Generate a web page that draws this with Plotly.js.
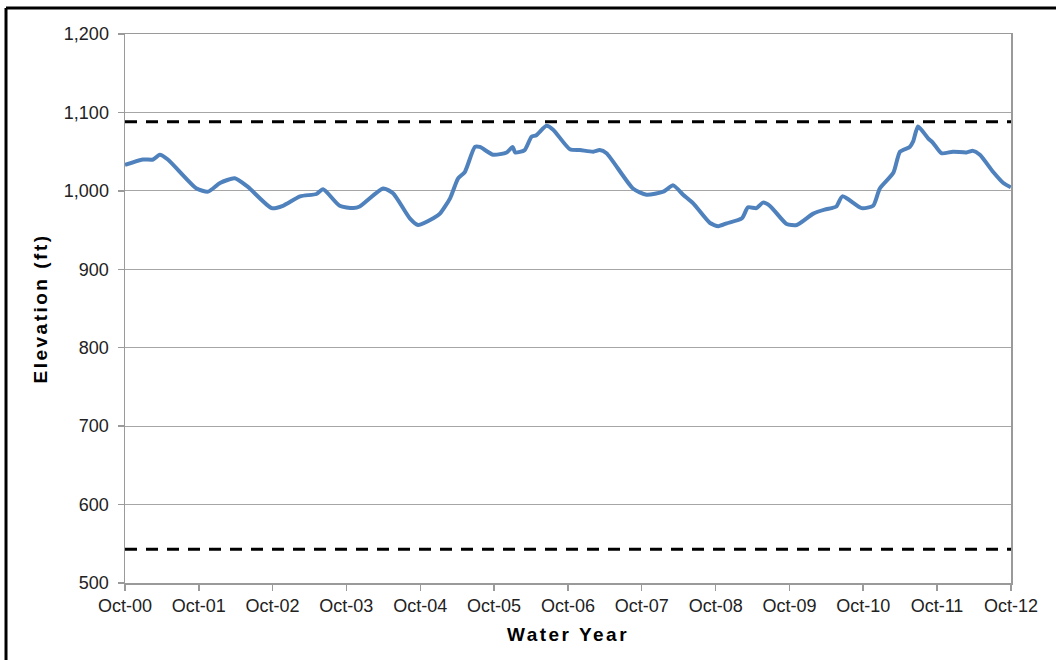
<!DOCTYPE html>
<html>
<head>
<meta charset="utf-8">
<script src="https://cdn.plot.ly/plotly-3.0.1.min.js"></script>
<style>
  html, body { margin: 0; padding: 0; background: #ffffff; }
  #chart { width: 1056px; height: 660px; }
  .xtitle, .ytitle { letter-spacing: 2.5px; }
</style>
</head>
<body>
<div id="chart"></div>
<script>
// Elevation record (date, ft)
const dates = [
  "2000-10-01","2000-12-28","2001-02-17","2001-03-22","2001-05-01","2001-09-20","2001-11-16",
  "2002-01-14","2002-03-28","2002-06-01","2002-09-27","2002-11-21","2003-02-14","2003-05-06",
  "2003-06-08","2003-08-29","2003-11-04","2003-12-06","2004-03-31","2004-05-19","2004-08-10",
  "2004-09-20","2004-12-04","2005-01-06","2005-02-25","2005-04-06","2005-05-09","2005-06-28",
  "2005-07-22","2005-09-27","2005-12-02","2006-01-01","2006-01-13","2006-03-01","2006-04-04",
  "2006-04-28","2006-06-17","2006-07-20","2006-10-11","2006-11-30","2007-02-04","2007-03-07",
  "2007-04-10","2007-08-19","2007-10-25","2008-01-16","2008-03-05","2008-04-23","2008-06-12",
  "2008-09-03","2008-10-14","2008-11-25","2009-02-08","2009-03-10","2009-04-21","2009-05-23",
  "2009-06-26","2009-09-17","2009-11-06","2010-01-27","2010-03-24","2010-04-27","2010-05-21",
  "2010-06-20","2010-09-23","2010-11-19","2010-12-22","2011-02-27","2011-04-01","2011-05-19",
  "2011-06-05","2011-06-29","2011-08-18","2011-09-12","2011-10-23","2011-12-19","2012-02-24",
  "2012-03-27","2012-04-30","2012-07-05","2012-08-24","2012-09-30"
];
const elevation = [
  1033,1040,1040,1046,1040,1003,999,
  1010,1016,1005,978,981,993,996,
  1002,981,978,980,1003,997,965,
  956.5,965,971,990.5,1016,1024,1056,
  1056,1046,1049,1056,1049,1052,1069,
  1071,1083,1078,1053,1052,1050,1052,
  1048,1003,995,999,1007,995,984,
  959,955,958.6,965,979,978,985,
  981,957.8,956.5,971,976,978,980,
  993,978,981,1003,1023,1050,1056,
  1063,1082,1067,1061,1048,1050,1049,
  1051,1046,1024,1010,1004.5
];
// Reference levels (ft)
const limitDates = ["2000-10-01","2012-10-01"];
const upperLevel = [1088, 1088];
const lowerLevel = [543, 543];
const yTicks = [500,600,700,800,900,1000,1100,1200];
const tickDates = ["2000-10-01","2001-10-01","2002-10-01","2003-10-01","2004-10-01","2005-10-01","2006-10-01",
                   "2007-10-01","2008-10-01","2009-10-01","2010-10-01","2011-10-01","2012-10-01"];
const tickLabels = ["Oct-00","Oct-01","Oct-02","Oct-03","Oct-04","Oct-05","Oct-06",
                    "Oct-07","Oct-08","Oct-09","Oct-10","Oct-11","Oct-12"];

const font = "Liberation Sans, Arial, sans-serif";

const traces = [
  {x: limitDates, y: upperLevel, mode: "lines", line: {color: "#000000", width: 3, dash: "12px,9px"}, hoverinfo: "skip"},
  {x: limitDates, y: lowerLevel, mode: "lines", line: {color: "#000000", width: 3, dash: "12px,9px"}, hoverinfo: "skip"},
  {x: dates, y: elevation, mode: "lines", line: {color: "#4F81BD", width: 4, shape: "spline", smoothing: 0.6}}
];

const layout = {
  width: 1056, height: 660,
  margin: {l: 125, r: 45, t: 34, b: 77},
  paper_bgcolor: "#ffffff", plot_bgcolor: "#ffffff",
  showlegend: false,
  font: {family: font, color: "#222222", size: 18},
  xaxis: {
    type: "date",
    range: ["2000-10-01","2012-10-01"],
    tickvals: tickDates, ticktext: tickLabels,
    showgrid: false, zeroline: false,
    showline: true, linecolor: "#9a9a9a", linewidth: 1.5, mirror: true,
    ticks: "outside", ticklen: 6, tickcolor: "#9a9a9a", tickwidth: 1.5,
    tickfont: {family: font, size: 18, color: "#222222"},
    title: {text: "<b>Water Year</b>", font: {family: font, size: 19, color: "#000000"}, standoff: 12}
  },
  yaxis: {
    range: [500, 1200],
    tickvals: yTicks, tickformat: ",d",
    showgrid: true, gridcolor: "#a6a6a6", gridwidth: 1,
    zeroline: false,
    showline: true, linecolor: "#9a9a9a", linewidth: 1.5, mirror: true,
    ticks: "outside", ticklen: 6, tickcolor: "#9a9a9a", tickwidth: 1.5,
    ticklabelstandoff: 5,
    tickfont: {family: font, size: 18, color: "#222222"},
    title: {text: "<b>Elevation (ft)</b>", font: {family: font, size: 19, color: "#000000"}, standoff: 11}
  },
  shapes: [
    {type: "line", xref: "paper", yref: "paper", x0: -0.1343, x1: 1.2, y0: 1.0474, y1: 1.0474, line: {color: "#000000", width: 3}},
    {type: "line", xref: "paper", yref: "paper", x0: -0.1343, x1: -0.1343, y0: 1.0474, y1: -0.3, line: {color: "#000000", width: 3}}
  ]
};

Plotly.newPlot("chart", traces, layout, {displayModeBar: false, staticPlot: true});
</script>
</body>
</html>
